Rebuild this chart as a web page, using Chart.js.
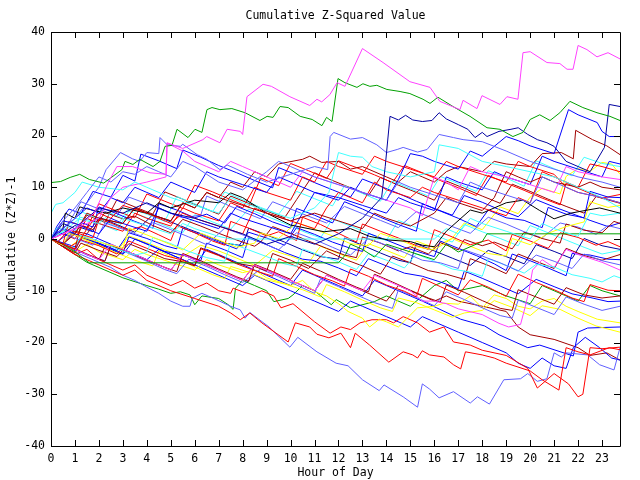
<!DOCTYPE html>
<html>
<head>
<meta charset="utf-8">
<script src="https://cdn.jsdelivr.net/npm/chart.js@4.4.1/dist/chart.umd.min.js"></script>
<style>
  html, body { margin: 0; padding: 0; background: #fff; }
  #wrap { width: 640px; height: 480px; }
</style>
</head>
<body>
<div id="wrap"><canvas id="c" width="640" height="480"></canvas></div>
<script>
// Cumulative (z*z)-1 random walks, one per series, [hour, value] pairs
const X_TICKS = [0, 1, 2, 3, 4, 5, 6, 7, 8, 9, 10, 11, 12, 13, 14, 15, 16, 17, 18, 19, 20, 21, 22, 23];
const Y_TICKS = [-40, -30, -20, -10, 0, 10, 20, 30, 40];

const magentaTop = [[0,0],[1,2],[1.8,5],[2.4,11],[2.75,14],[3.4,14],[4.13,12.8],[4.8,12.5],[4.84,18.6],[5.5,17.5],[6.34,19.2],[6.5,19.8],[7.05,18.6],[7.35,21.2],[7.9,20.8],[8.0,20.2],[8.18,27.5],[8.85,29.9],[9.2,29.5],[9.97,27.5],[10.8,25.8],[11.1,27],[11.3,26.5],[11.64,27.9],[11.94,30.2],[12.27,29.5],[13.0,36.8],[13.86,34.1],[14.98,30.4],[15.82,29.3],[16.23,26.6],[17.07,25],[17.2,26.8],[17.78,25.2],[17.99,27.7],[18.74,26],[19.03,27.5],[19.49,27],[19.7,36],[20.0,36.2],[20.7,34.1],[21.24,33.9],[21.54,32.8],[21.79,32.8],[22.0,37.4],[22.37,36.6],[22.79,35.2],[23.25,36],[23.75,34.8]];
const greenTop = [[0,10.9],[0.4,11.1],[0.8,11.9],[1.2,12.5],[1.6,11.5],[2.2,10.8],[2.96,13.4],[3.09,15],[3.42,14.4],[3.71,15.4],[4.26,14],[4.55,15],[4.76,17.9],[5.05,18.1],[5.26,21.2],[5.72,19.6],[6.01,21.2],[6.3,20.6],[6.51,25],[6.72,25.4],[7.05,25],[7.55,25.2],[8.1,24.4],[8.72,22.9],[9.02,23.7],[9.27,23.5],[9.56,25.6],[9.9,25.4],[10.4,23.7],[10.9,23.1],[11.31,21.9],[11.5,23.5],[11.73,22.7],[11.98,31],[12.27,30.2],[12.77,29.3],[13.02,30],[13.31,29.5],[13.6,29.7],[14.02,28.9],[14.57,28.5],[14.98,28.1],[15.53,27],[15.82,26.2],[16.15,27.4],[16.78,25.6],[17.49,23.7],[18.2,21.5],[18.74,21.2],[19.28,19.8],[19.7,20.6],[20.0,23.1],[20.4,24],[20.83,22.9],[21.24,24.4],[21.66,26.6],[22.2,25.4],[22.79,24.4],[23.33,23.7],[23.75,22.9]];
const darkBlueTop = [[0,0],[0.5,3],[1,2],[2,6],[3,5],[4,7],[5,5],[6,4],[7,2.5],[8,1],[9,-1],[10,0.5],[11,-1],[12,1],[13,4],[13.8,8],[13.95,14],[14.15,23.7],[14.5,23],[14.8,23.9],[15.1,23],[15.5,22.7],[15.9,22.9],[16.2,24.4],[16.5,23.2],[17,22.1],[17.4,21.2],[17.7,19.6],[18,20.6],[18.2,19.8],[18.7,20.8],[19.2,21.2],[19.5,21.5],[19.9,20.2],[20.3,19.2],[20.7,18.6],[21,17.9],[21.5,15],[22.5,13],[23.1,17.7],[23.3,26],[23.75,25.6]];
const lightBlue1 = [[0,0],[0.5,2],[1,4],[1.5,7],[2,10],[2.3,13.4],[2.9,16.7],[3.4,15.5],[3.7,15],[4,16.7],[4.5,16.5],[4.55,19.6],[4.85,18.2],[5.4,17.9],[5.5,18.3],[6.1,16.3],[6.5,15.4],[7.05,13.4],[7.35,14.3],[7.6,13.8],[8.2,12.5],[9,11],[10,12.5],[11,14],[11.55,13.4],[11.65,19.8],[11.8,20.6],[12.5,19.3],[13,19.6],[13.6,18.2],[14,16.7],[14.45,17.3],[14.7,17.7],[15.3,16.8],[15.7,17.3],[16.2,20.2],[16.8,19.6],[17.2,19.2],[18,18.8],[19,17],[20,15],[21,13.5],[22,12],[23,11],[23.75,10]];
const lightBlue2 = [[0,0],[0.4,3],[1,6],[1.5,9],[2,12],[2.5,11],[3,13],[3.5,12.5],[4,14],[4.5,13],[5,12],[5.5,15],[6,14],[6.5,12.5],[7,11],[8,9.5],[9,13],[9.5,15],[10,14],[10.5,13],[11,12],[12,10.5],[13,9],[14,7.5],[14.5,11],[15,10],[16,8.5],[17,7],[17.5,11],[18,10],[19,8.5],[20,7],[20.5,12],[21,11],[22,9],[23,8],[23.75,7]];
const cyan1 = [[0,5],[0.2,6.7],[0.5,7],[1,9],[1.3,11],[2,10],[3,9.5],[3.5,11],[4,10],[5,8],[6,6.5],[7,5],[7.5,8],[8,7],[9,5.5],[10,4],[11,6],[11.6,9],[12,16.7],[12.5,16],[13,15.8],[13.4,14],[14,13],[15,12],[16,13],[16.2,18.2],[17,17.5],[18,15],[19,14],[20,13],[21,12],[22,10],[23,8],[23.75,6]];
const magenta2 = [[0,0],[1,2],[2,4],[2.5,8],[3,10],[4,11],[4.8,12],[4.85,18.5],[5.5,17],[6,15],[6.5,14],[7,13],[7.5,15],[8,14],[9,12],[10,10],[10.5,13],[11,12],[12,10.5],[13,9],[14,7.5],[15,6],[15.5,4.5],[16,12],[16.5,11],[17,9.5],[17.5,14],[18,13],[19,12],[20,10.5],[21,9],[21.5,14],[22,13],[23,12],[23.75,11.5]];
const blue1 = [[0,0],[0.5,2],[1,4],[1.5,6],[2,5],[2.5,8],[3,7],[3.5,10],[4,9],[4.5,8],[5,11],[5.5,10],[6,9],[6.5,13],[7,12],[8,10.5],[9,9],[9.5,12],[10,11],[11,9],[12,7.5],[12.5,10],[13,9],[14,7.5],[14.5,11.5],[15,16.5],[15.5,16],[16,15],[17,13.5],[17.5,17],[18,16],[19,19.8],[19.5,19],[20,18],[21,16.5],[21.6,25],[22,24],[22.8,22.5],[23,20.8],[23.3,19.8],[23.75,19.8]];
const darkRed1 = [[0,0],[0.5,-1],[1,1],[1.5,5],[2,4],[3,3],[3.5,6],[4,5],[5,3.5],[5.5,7],[6,6],[6.5,9],[7,8],[8,6.5],[9,5],[10,3.5],[11,5],[12,3.5],[13,2],[13.5,5],[14,4],[15,2.5],[16,5],[16.5,8],[17,7],[18,5.5],[18.5,8],[19,13],[19.5,12],[20,11],[20.5,12],[21,11],[22,10],[22.5,11],[23,10],[23.75,9.5]];
const red1 = [[0,0],[1,-2],[1.5,2],[2,5],[2.5,4],[3,6.5],[4,5],[5,3],[5.5,5],[6,4],[7,2.5],[8,1],[8.5,6],[9,5],[10,3.5],[11,2],[11.5,6],[12,9],[13,7],[13.5,11],[14,9.5],[15,8],[15.5,10],[16,9],[17,7.5],[18,6],[19,4.5],[19.5,8],[20,7],[20.5,13],[21,12],[22,10],[22.5,14.5],[23,14],[23.75,13]];
const blue2 = [[0,0],[0.5,3.5],[1,3],[2,1],[2.5,4],[3,3],[4,1.5],[4.5,6],[5,5],[6,3.5],[7,2],[7.5,5],[8,4],[9,2.5],[10,1],[10.5,5],[11,9],[12,8],[13,6.5],[14,5],[14.5,8],[15,7],[16,5.5],[16.5,12],[17,11],[18,9.5],[18.5,13],[19,12],[20,10.5],[20.5,16],[21,15],[22,13.5],[23,12],[23.3,15],[23.75,14.5]];
const black1 = [[0,0],[0.5,2],[0.6,5],[1,4],[1.2,6.2],[1.8,5.5],[2.3,5],[3,6],[4,5],[4.5,7],[5,6],[6,7.5],[7,7],[7.5,8.9],[8,8],[8.5,6.5],[9,5],[10,2.7],[11.4,1.4],[12.5,2],[13.3,0.5],[14.1,-0.2],[15,-0.5],[15.5,-1.2],[16,-1.5],[16.5,1.5],[17.5,5.6],[18,5],[19,7],[19.7,7.5],[20.4,5.5],[21,3.9],[21.7,5],[22.4,5.6],[22.9,6],[23.75,5]];
const cyanFlat = [[0,0],[0.5,1.5],[1,4],[2,3],[2.5,5],[3,4],[4,2.5],[5,1],[5.5,3],[6,2],[7,0.5],[7.5,0],[16,0],[16.5,2],[17,1],[17.5,4],[18,3],[19,1.5],[20,0],[20.5,3],[21,2],[22,0.5],[22.5,5],[23,4.5],[23.75,5]];
const greenFlat = [[0,0],[0.5,-1],[1,-2.5],[1.6,-4.6],[12,-4.6],[12.3,-3],[12.5,-1],[13,-2],[13.5,-3.5],[14,-1],[15,-2.5],[16,-4],[16.5,-1],[17,-2.5],[18,-0.5],[18.2,1],[23.75,1]];
const yellow1 = [[0,0],[0.5,-1.2],[0.75,1.1],[1.5,0.1],[2.25,-0.9],[3,-1.8],[3.25,2.1],[4,0.8],[4.75,-0.6],[5.5,-2.1],[6.25,1.1],[7,-0.2],[7.75,-1.6],[8.5,-0.8],[8.75,1.2],[9.5,0.1],[10.25,3.2],[11,1.9],[11.75,0.6],[12.5,-0.9],[13.25,-1.3],[13.75,1.1],[14.5,-0.1],[15.25,-1.5],[16,-2.1],[16.75,0.1],[17.5,-1.4],[18.25,-2.8],[19,-3.3],[19.25,0.1],[20,-1.1],[20.75,1.1],[21.5,2.4],[22.25,3.3],[22.5,7.2],[23.25,6.1],[23.75,6.5]];
const lightBlue3 = [[0,0],[0.5,-1.1],[0.75,0.6],[1.75,-1.2],[2.25,3.1],[3,1.9],[3.75,0.6],[4.25,3.2],[5,1.8],[5.75,0.4],[6.5,-1.1],[7.25,2.1],[8,0.8],[8.75,-0.6],[9.5,-2.1],[10.25,1.2],[11,-0.1],[11.75,-1.6],[12.5,-3.1],[13.25,0.1],[14,-1.2],[14.75,-2.6],[15.5,-4.1],[16.25,-4.6],[17,-5.7],[17.25,-2.1],[18,-3.3],[18.75,-4.6],[19.5,-6.2],[20.25,-3.1],[21,-4.3],[21.75,-5.7],[22.25,-2.9],[23,-4.2],[23.75,-5]];
const red4 = [[0,0],[0.25,-0.7],[0.75,1.8],[1.25,0.9],[1.75,0.2],[2,3.8],[2.5,3.1],[3.25,1.6],[3.75,2.4],[4.5,0.8],[5,-0.3],[5.25,2.6],[6,1.2],[6.75,-0.4],[7.25,-1.2],[7.5,3.4],[8.25,2.1],[9,0.6],[9.5,1.4],[10.25,-0.3],[10.5,4.2],[11.25,2.8],[12,1.1],[12.75,-0.6],[13,2.9],[13.75,1.5],[14.5,0.2],[15.25,-1.3],[15.75,-2],[16,1.8],[16.75,0.4],[17.5,-1.1],[18.25,-0.2],[19,-2.3],[19.25,0.9],[20,-0.4],[20.75,-1.8],[21.25,1.2],[22,0.3],[22.75,-1.2],[23.25,-0.5],[23.75,-1.5]];
const darkRed2 = [[0,0],[0.5,-1.1],[1,-1.9],[1.25,2.7],[1.75,1.8],[2.25,5.1],[3,3.9],[3.5,4.4],[4.25,2.6],[5,1.2],[5.5,3.8],[6.25,2.5],[7,1.1],[7.75,-0.2],[8.5,-1.4],[8.75,-0.6],[9.25,2.4],[10,1.1],[10.75,-0.4],[11.5,-1.8],[12.25,-3.1],[12.75,-3.6],[13,0.4],[13.75,-0.8],[14.5,-2.3],[15,-1.5],[15.75,-2.9],[16.25,-0.7],[17,-2.1],[17.25,-0.1],[18,-1.3],[18.5,-0.6],[19.25,-1.9],[19.75,1.3],[20.5,0.1],[21.25,-0.8],[21.5,2.9],[22.25,1.7],[23,1.2],[23.5,3.4],[23.75,3]];
const blue3 = [[0,0],[0.25,1.4],[0.75,0.6],[1.25,3.2],[1.75,2.3],[2,6.2],[2.75,4.9],[3.5,3.4],[4.25,2.1],[4.5,6.8],[5.25,5.6],[6,4.1],[6.5,4.8],[7.25,3.1],[7.75,6.3],[8.5,4.9],[9.25,3.3],[10,2.1],[10.25,5.9],[11,4.6],[11.75,3.1],[12.25,7.2],[13,5.8],[13.75,4.2],[14.5,2.8],[15.25,1.5],[15.5,6.8],[16.25,5.4],[17,4],[17.75,2.4],[18.25,5.6],[19,4.1],[19.75,3.6],[20.5,2.2],[20.75,6.1],[21.5,4.8],[22.25,4.1],[22.5,9.2],[23.25,8.1],[23.75,8]];
const cyan3 = [[0,0],[0.5,-1.2],[1,-1.8],[1.25,0.7],[2,-0.4],[2.75,-1.9],[3.5,-3.1],[4,-2.6],[4.25,0.3],[5,-0.9],[5.75,-2.4],[6.5,-3.6],[7.25,-4.3],[7.5,-0.8],[8.25,-2.1],[9,-3.4],[9.75,-4.8],[10.25,-5.3],[10.5,-1.9],[11.25,-3.2],[12,-4.4],[12.75,-5.9],[13.25,-2.8],[14,-4.1],[14.75,-5.6],[15.25,-2.9],[16,-4.3],[16.75,-5.8],[17.5,-6.4],[18,-7.2],[18.25,-3.8],[19,-5.1],[19.75,-6.6],[20.25,-4.9],[21,-5.4],[21.75,-6.9],[22.5,-7.6],[23,-8.3],[23.5,-7.1],[23.75,-7.5]];
const magenta3 = [[0,0],[1,-2],[2,-4],[2.5,-1],[3,-2],[4,-4],[5,-6],[5.5,-3],[6,-4],[7,-6],[8,-8],[8.5,-5],[9,-6],[10,-8],[11,-10],[11.5,-7],[12,-8],[13,-10],[13.5,-7],[14,-8],[15,-10],[15.5,-12],[16,-12],[16.5,-12.5],[17,-13.5],[18,-14.6],[18.7,-16.3],[19.1,-17],[19.6,-16.5],[19.8,-13],[19.95,-10],[20.1,-6],[20.5,-4],[21,-5.5],[21.5,-2],[22,-3],[23,-4.5],[23.75,-6]];
const darkRed3 = [[0,0],[0.5,-1.4],[1,-2.7],[1.25,-0.8],[2,-2.2],[2.75,-3.4],[3.25,-0.9],[4,-2.3],[4.75,-3.8],[5.5,-4.4],[6,-5.2],[6.25,-1.7],[7,-3.1],[7.75,-4.7],[8.5,-5.3],[9,-6.2],[9.25,-2.8],[10,-4.1],[10.75,-5.7],[11.5,-2.3],[12.25,-3.9],[13,-5.2],[13.75,-6.8],[14.25,-3.3],[15,-4.6],[15.75,-6.1],[16.5,-6.8],[17.25,-7.8],[17.5,-3.8],[18.25,-5.1],[19,-6.7],[19.5,-2.9],[20.25,-4.3],[21,-5.7],[21.5,-1.8],[22.25,-3.2],[23,-4.1],[23.75,-3]];
const red5 = [[0,0],[0.75,-1.6],[1.25,-0.2],[2,-1.3],[2.75,-2.9],[3.25,-0.4],[4,-1.8],[4.75,-3.2],[5.5,-4.1],[6,-5.1],[6.25,-1.9],[7,-3.2],[7.75,-4.8],[8.5,-6.1],[9.25,-7.2],[9.5,-3.8],[10.25,-5.3],[11,-6.9],[11.75,-8.1],[12.25,-9.1],[12.5,-5.8],[13.25,-7.2],[14,-8.9],[14.75,-10.1],[15.25,-11.2],[15.5,-7.6],[16.25,-9.2],[17,-10.8],[17.5,-7.9],[18.25,-9.3],[19,-11.1],[19.5,-6.8],[20.25,-8.4],[21,-9.8],[21.75,-11.4],[22.25,-12.1],[22.5,-8.8],[23.25,-9.9],[23.75,-10]];
const darkRed4 = [[0,0],[0.75,-1.4],[1.5,-2.9],[2.25,-4.3],[2.5,-1.2],[3.25,-2.6],[4,-4.1],[4.75,-5.5],[5.25,-6.3],[5.5,-2.8],[6.25,-4.2],[7,-5.8],[7.75,-7.3],[8.25,-8.2],[8.5,-4.9],[9.25,-6.3],[10,-7.8],[10.5,-4.7],[11.25,-6.2],[12,-7.8],[12.75,-9.3],[13.25,-10.2],[13.5,-6.8],[14.25,-8.3],[15,-9.9],[15.75,-11.4],[16.25,-12.2],[16.5,-8.9],[17.25,-10.3],[18,-11.9],[18.75,-13.4],[19.25,-13.8],[19.5,-9.8],[20.25,-11.2],[21,-12.6],[21.5,-9.4],[22.25,-10.8],[23,-11.4],[23.75,-11]];
const blue4 = [[0,0],[0.25,-0.6],[0.75,1.2],[1.5,0.1],[2.25,-1.3],[3,-2.8],[3.25,0.4],[4,-0.9],[4.75,-2.4],[5.5,-3.1],[6.25,-4.2],[6.5,-0.8],[7.25,-2.1],[8,-3.6],[8.25,0.2],[9,-1.1],[9.75,-2.6],[10.5,-3.9],[11.25,-4.3],[12,-5.6],[12.75,-7.1],[13.25,-3.8],[14,-5.2],[14.75,-6.6],[15.5,-7.2],[16.25,-8.3],[17,-9.6],[17.25,-6.2],[18,-7.6],[18.75,-9.1],[19.5,-10.6],[20.25,-7.8],[21,-9.2],[21.75,-10.6],[22.5,-11.3],[23.25,-12.1],[23.75,-12]];
const lightBlue4 = [[0,0],[0.75,-1.5],[1.5,-3.1],[2.25,-4.2],[2.5,-1.3],[3.25,-2.8],[4,-4.3],[4.75,-5.9],[5.25,-6.7],[5.75,-3.9],[6.5,-5.3],[7.25,-6.9],[8,-8.4],[8.75,-5.8],[9.5,-7.3],[10.25,-8.9],[11,-10.5],[11.25,-7.7],[12,-9.2],[12.75,-10.8],[13.5,-12.3],[14.25,-13.4],[14.5,-9.8],[15.25,-11.3],[16,-12.9],[16.5,-10.2],[17.25,-11.7],[18,-13.3],[18.75,-14.8],[19.25,-15.3],[19.5,-11.8],[20.25,-13.2],[21,-14.6],[21.5,-11.2],[22.25,-12.6],[23,-13.8],[23.75,-13]];
const yellow2 = [[0,0],[0.5,-1],[1,-2.5],[1.5,-1],[2,-2.5],[3,-4],[3.5,-2],[4,-3],[5,-4.5],[6,-6],[6.5,-4],[7,-5],[8,-6.5],[8.5,-6],[9,-7.5],[10,-9],[10.5,-8],[11,-10.2],[11.5,-11],[12,-12.5],[12.4,-14],[13,-15.3],[13.3,-17],[13.7,-15.5],[14,-16],[14.5,-17],[15.3,-13.3],[16,-13],[16.4,-12.4],[17,-12.6],[17.5,-11],[18,-13.3],[18.5,-10.8],[19,-11.5],[19.5,-13],[20,-13.5],[20.5,-12],[21,-11.5],[21.5,-13],[22,-14],[22.8,-15.5],[23.75,-16.2]];
const yellow3 = [[0,0],[0.75,-1.7],[1.25,0.2],[2,-1.2],[2.75,-2.7],[3.5,-4.1],[4.25,-5.2],[4.5,-2.3],[5.25,-3.8],[6,-5.4],[6.75,-6.9],[7.25,-7.7],[7.5,-5.3],[8.25,-6.4],[9,-7.9],[9.75,-8.7],[10.5,-9.8],[11.25,-11.2],[11.5,-8.8],[12.25,-10.2],[13,-11.8],[13.75,-13.3],[14.25,-14],[14.5,-11.4],[15.25,-12.3],[16,-13.7],[16.75,-15.1],[17.25,-14.3],[18,-13.8],[18.5,-11.9],[19.25,-13.2],[20,-14.8],[20.5,-12.9],[21.25,-13.6],[22,-15.3],[22.75,-16.8],[23.75,-18]];
const red2 = [[0,0],[0.5,-1.5],[1,-3],[1.5,-2],[2,-4],[3,-6],[3.5,-5],[4,-7],[5,-9],[5.5,-8],[6,-9.5],[6.5,-8.5],[7,-10],[7.5,-10.5],[7.6,-9.5],[8,-10.2],[8.4,-10.8],[8.8,-10],[9.3,-11],[9.6,-13.3],[10.1,-12.5],[11,-16],[11.65,-18.2],[12.1,-17],[12.5,-17.5],[12.9,-16.2],[13.4,-15.6],[14,-15.6],[14.3,-16.2],[14.7,-15],[15.3,-16.2],[15.8,-18],[16.4,-17],[16.8,-19.9],[17.5,-20.5],[18,-21.5],[19,-22.5],[19.9,-25],[20.3,-28.8],[21,-26],[21.6,-28],[22,-30.5],[22.2,-30],[22.5,-21],[23,-21.2],[23.75,-20.9]];
const red3 = [[0,0],[0.5,-1.5],[1,-3],[2,-5],[3,-7],[3.5,-6],[4,-8],[5,-10],[6,-11.5],[7,-13],[7.5,-14.3],[7.9,-15.6],[8.3,-14.3],[8.8,-16.2],[9.9,-19.9],[10.2,-16.2],[10.8,-17],[11.1,-18.4],[11.6,-19.1],[12.1,-18.2],[12.5,-21],[12.7,-18.2],[13.3,-20.5],[14.1,-23.8],[14.7,-21.8],[15.1,-22.4],[15.3,-23],[15.5,-21.6],[15.8,-22.4],[16.4,-22.8],[16.8,-24.3],[17.1,-25.1],[17.3,-21.8],[18,-22.4],[18.5,-23],[19,-24],[20,-25.5],[20.5,-27.2],[21.2,-29.2],[21.5,-21],[22,-21.8],[22.5,-22.4],[23.3,-21],[23.75,-21.4]];
const lightBlueLow = [[0,0],[0.5,-1],[1,-2.5],[1.5,-3.5],[2,-4.5],[2.5,-5.5],[3,-7],[3.5,-8],[4,-9.3],[4.5,-10.5],[5,-12],[5.5,-13],[5.8,-13],[5.9,-11.4],[6.3,-10.5],[6.8,-11.5],[7.5,-13],[7.9,-13.7],[8.1,-15.3],[8.3,-14.2],[9.1,-17],[9.97,-20.9],[10.3,-19],[11.1,-21.8],[11.9,-24],[12.4,-24.5],[13,-27.2],[13.7,-29.3],[13.9,-28.2],[14.7,-30.5],[15.3,-32.5],[15.5,-28],[15.8,-29],[16.2,-30.7],[16.8,-29.5],[17.5,-31.7],[17.8,-30.5],[18.3,-31.9],[18.9,-27.2],[19.6,-27],[19.9,-26],[20.3,-27.5],[20.7,-27],[21,-22],[21.3,-22.8],[21.5,-22],[22.4,-22.4],[22.9,-24.3],[23.5,-25.3],[23.75,-21]];
const blue5 = [[0,0],[1,-1.5],[1.5,1],[2,0],[3,-2],[4,-4],[4.5,-2],[5,-3],[6,-5],[7,-7],[8,-9],[8.5,-7],[9,-8],[10,-10],[11,-12],[12,-14],[12.5,-12],[13,-13],[14,-15],[15,-17],[15.5,-15],[16,-16],[17,-18],[18,-20],[19,-22],[19.5,-24],[20,-25],[20.5,-23],[21,-24.5],[21.5,-25],[21.8,-21],[22.3,-19],[22.9,-21],[23.4,-23],[23.75,-23.4]];
const blue6 = [[0,0],[0.5,2],[1,1],[2,-1],[3,-3],[3.5,0],[4,-1],[5,-3],[6,-5],[6.5,-2],[7,-3],[8,-5],[9,-7],[10,-9],[10.5,-6],[11,-7],[12,-9],[13,-11],[13.5,-8],[14,-9],[15,-11],[15.5,-12],[16.1,-13.3],[17.1,-15.5],[18.1,-16.8],[18.7,-18.5],[19.9,-21],[20.4,-20.5],[21.8,-22.6],[22,-18],[22.4,-17.2],[23.75,-17]];
const darkRed5 = [[0,0],[1,-2],[2,-4],[2.3,-1],[3,-2],[4,-4],[5,-6],[5.5,-3],[6,-4],[7,-6],[8,-8],[8.5,-5],[9,-6],[10,-8],[11,-10],[11.5,-7],[12,-8],[13,-10],[14,-12],[14.5,-9],[15,-10],[16,-12],[16.5,-11],[17,-12],[18,-13],[19,-14],[19.5,-17],[20,-18.5],[21,-19.4],[22,-21],[22.5,-22.5],[23.2,-22],[23.75,-23.4]];
const greenLow = [[0,0],[0.5,-1.5],[1,-3],[1.5,-4.5],[2,-5.5],[3,-7.5],[4,-9],[4.5,-9.7],[5,-10.5],[5.4,-10.2],[5.8,-10.8],[6,-12.7],[6.3,-11],[7,-11.5],[7.4,-12.7],[7.6,-13.6],[7.7,-9.5],[8,-8],[8.5,-9],[9,-10],[9.3,-12.1],[9.9,-11.5],[10.1,-10.8],[10.5,-9],[11,-10],[11.7,-12.7],[11.9,-11.7],[12.5,-13.3],[13.5,-12.1],[14,-11],[15,-13],[15.5,-11],[16,-9],[16.5,-8],[17,-10],[18,-9],[19,-11],[20,-12.5],[20.5,-9],[21,-10],[22,-12],[22.5,-9],[23,-10],[23.75,-11]];
const red6 = [[0,0],[0.5,1],[1,0],[1.5,4],[2,3],[3,1.5],[3.5,5],[4,4],[5,2.5],[5.5,6],[6,5],[7,3.5],[7.5,7],[8,6],[8.5,10],[9,9],[10,7.5],[10.5,12],[11,11],[11.5,15],[12,14],[13,12.5],[13.5,16],[14,15],[15,13.5],[16,12],[16.5,15],[17,14],[18,12.5],[19,11],[19.5,15],[20,14],[21,12.5],[21.5,10],[22,9],[23,8],[23.75,7]];
const darkRed6 = [[0,0],[0.5,-1],[1,1.5],[1.5,1],[2,4],[3,3],[3.5,6],[4,5],[5,3.5],[5.5,7],[6,6],[6.5,9],[7,8],[7.5,11],[8,10],[8.5,13],[9,12],[9.5,14.5],[10.5,15.4],[10.8,16],[11.3,14.8],[12,15],[12.5,13.5],[13,14],[14,12],[14.5,11],[15,13],[15.5,12],[16,11],[16.5,13],[17,14],[18,13],[18.5,15],[19,14.5],[20,14],[20.5,16.5],[21.3,16.7],[21.8,15.5],[21.9,21],[22.6,19.2],[23.2,18],[23.75,16.3]];
const blue7 = [[0,0],[0.5,-1.2],[1,-2.3],[1.25,0.3],[2,-0.8],[2.75,-2.2],[3.25,1.2],[4,0.1],[4.75,-1.3],[5.25,-1.9],[5.5,2.1],[6.25,0.8],[7,-0.6],[7.75,-1.9],[8.25,1.3],[9,0.2],[9.75,-1.2],[10.25,2.2],[11,0.9],[11.75,-0.6],[12.5,-1.8],[13,-2.4],[13.25,1.1],[14,-0.2],[14.75,-1.6],[15.5,-2.7],[16,-3.4],[16.25,-0.4],[17,-1.8],[17.75,-3.2],[18.5,-4.8],[19,-6.1],[19.25,-2.9],[20,-4.2],[20.75,-5.6],[21.5,-7.1],[21.75,-2.8],[22.5,-3.1],[23.25,-3.9],[23.75,-4]];
const lightBlue5 = [[0,0],[0.25,1.2],[0.75,3.1],[1.25,7.2],[2,5.8],[2.75,4.4],[3.25,8.1],[4,6.8],[4.75,5.4],[5.5,4.1],[6.25,4.6],[6.5,8.3],[7.25,6.8],[8,5.3],[8.75,3.9],[9.25,7.2],[10,5.8],[10.75,4.4],[11.5,3.1],[12.25,6.3],[13,4.9],[13.75,3.6],[14.5,2.2],[15.25,5.3],[16,3.9],[16.75,2.4],[17.5,1.1],[18.25,4.2],[19,2.9],[19.75,1.4],[20.5,0.2],[21.25,3.1],[22,2.3],[22.75,0.9],[23.25,2.6],[23.75,2]];
const cyan4 = [[0,0],[0.25,2.2],[1,1.1],[1.25,5.3],[2,3.8],[2.75,2.4],[3.25,6.1],[4,4.8],[4.75,3.4],[5.25,8.2],[6,6.8],[6.75,5.3],[7.25,9.1],[8,7.6],[8.75,6.1],[9.5,4.8],[10.25,9.2],[11,7.8],[11.75,6.4],[12.25,10.3],[13,8.8],[13.75,7.3],[14.25,11.2],[15,9.7],[15.75,8.3],[16.25,12.1],[17,10.7],[17.75,9.2],[18.25,13.2],[19,11.8],[19.75,10.2],[20.25,15.1],[21,13.6],[21.75,12.2],[22.25,15.8],[23,14.6],[23.75,14]];
const yellow4 = [[0,0],[0.5,-1.1],[1,-2.1],[1.25,0.2],[2,-1.1],[2.75,-2.4],[3.25,0.6],[4,-0.7],[4.75,-2.1],[5.5,-3.4],[6.25,-1.2],[7,-2.3],[7.75,-3.7],[8.5,-5.1],[9.25,-2.2],[10,-3.3],[10.75,-4.6],[11.25,-1.4],[12,-2.8],[12.75,-4.1],[13.25,-0.9],[14,-2.2],[14.75,-3.6],[15.25,-0.4],[16,-1.7],[16.75,0.2],[17.25,3.1],[18,1.8],[18.75,6.2],[19.5,4.9],[20,8.1],[20.5,9.8],[21.25,8.7],[21.5,12.1],[22,13.6],[22.5,13.1],[23,14.8],[23.4,14.5],[23.75,12.5]];
const darkBlue2 = [[0,0],[0.5,1.1],[1,2.6],[1.75,1.4],[2,4.2],[2.75,2.8],[3.5,1.3],[4.25,4.7],[5,3.3],[5.75,1.9],[6.5,0.6],[7.25,-0.8],[8,-1.3],[8.25,2.1],[9,0.8],[9.75,-0.6],[10.5,-2.1],[11.25,-3.4],[12,-3.9],[12.25,0.2],[13,-1.2],[13.75,-2.7],[14.5,-4.1],[15,-4.6],[15.25,-0.9],[16,-2.3],[16.75,-3.7],[17.5,-5.1],[18.25,-2.2],[19,-3.4],[19.75,-4.8],[20.25,-1.1],[21,-2.4],[21.75,-3.8],[22.25,0.1],[23,-1.3],[23.75,-2]];
const blue8 = [[0,0],[0.25,2.5],[0.75,5.8],[1.25,4.9],[1.75,9.2],[2.5,8.1],[3,12.3],[3.5,11.2],[3.75,16.4],[4.5,15.1],[5.25,13.6],[5.5,17.2],[6.25,15.8],[7,14.2],[7.75,12.8],[8.5,11.3],[9.25,9.9],[9.5,13.8],[10.25,12.4],[11,10.9],[11.75,9.5],[12.5,8.1],[13,11.6],[13.75,10.2],[14.5,8.8],[15.25,7.3],[16,5.9],[16.75,4.6],[17.25,8.4],[18,7.1],[18.75,5.6],[19.5,4.3],[20.25,7.6],[21,6.2],[21.75,4.9],[22.5,3.6],[23.25,2.4],[23.75,3.1]];
const red7 = [[0,0],[0.5,-0.9],[0.75,3.4],[1.5,2.2],[2,6.8],[2.75,5.4],[3.5,4.1],[4,8.7],[4.75,7.3],[5.5,5.9],[6,10.4],[6.75,9.1],[7.5,7.6],[8.25,6.2],[8.75,11.8],[9.5,10.3],[10,14.6],[10.75,13.2],[11.5,11.7],[12,15.1],[12.75,13.8],[13.5,12.4],[14.25,10.9],[14.75,14.2],[15.5,12.8],[16.25,11.3],[17,9.9],[17.75,8.4],[18.25,12.3],[19,10.8],[19.75,9.4],[20.5,7.9],[21.25,6.6],[21.5,10.8],[22.25,9.3],[23,7.9],[23.75,8.6]];
const darkRed7 = [[0,0],[0.5,1.8],[1,1],[1.5,4.6],[2.25,3.2],[2.75,7.6],[3.5,6.2],[4.25,4.8],[4.75,9.1],[5.5,7.7],[6.25,6.2],[7,4.8],[7.5,8.3],[8.25,6.9],[9,5.4],[9.75,4.1],[10.25,7.6],[11,12.8],[11.75,11.3],[12.5,9.9],[13.25,8.4],[13.75,11.9],[14.5,10.4],[15.25,9],[16,7.5],[16.5,11.2],[17.25,9.8],[18,8.3],[18.75,6.9],[19.25,10.6],[20,9.2],[20.75,7.7],[21.5,6.3],[22.25,5],[22.75,8.2],[23.75,6.9]];
const cyan5 = [[0,0],[0.5,1.3],[1.25,4.2],[2,3],[2.75,1.6],[3.25,5.4],[4,4.1],[4.75,2.6],[5.5,1.2],[6,4.7],[6.75,3.3],[7.5,1.9],[8.25,5.8],[9,4.4],[9.75,3],[10.5,1.5],[11.25,0.2],[11.75,3.9],[12.5,2.5],[13.25,1.1],[14,-0.3],[14.5,3.6],[15.25,2.2],[16,0.8],[16.75,-0.6],[17.25,2.8],[18,1.4],[18.75,0.1],[19.5,-1.3],[20,2.6],[20.75,1.2],[21.5,-0.2],[22.25,-1.6],[23,-2.9],[23.75,-2.2]];

const RED = '#ff0000';
const GREEN = '#00a000';
const BLUE = '#0000ff';
const MAGENTA = '#ff40ff';
const CYAN = '#40ffff';
const DARK_RED = '#a00000';
const YELLOW = '#ffff00';
const BLACK = '#000000';
const LIGHT_BLUE = '#6060ff';
const DARK_BLUE = '#0000a0';

const SERIES = [
  [magentaTop, MAGENTA], [greenTop, GREEN], [darkBlueTop, DARK_BLUE], [lightBlue1, LIGHT_BLUE],
  [lightBlue2, LIGHT_BLUE], [cyan1, CYAN], [magenta2, MAGENTA], [blue1, BLUE],
  [darkRed1, DARK_RED], [red1, RED], [blue2, BLUE], [black1, BLACK],
  [cyanFlat, CYAN], [greenFlat, GREEN], [yellow1, YELLOW], [lightBlue3, LIGHT_BLUE],
  [red4, RED], [darkRed2, DARK_RED], [blue3, BLUE], [cyan3, CYAN],
  [magenta3, MAGENTA], [darkRed3, DARK_RED], [red5, RED], [darkRed4, DARK_RED],
  [blue4, BLUE], [lightBlue4, LIGHT_BLUE], [yellow2, YELLOW], [yellow3, YELLOW],
  [red2, RED], [red3, RED], [lightBlueLow, LIGHT_BLUE], [blue5, BLUE],
  [blue6, BLUE], [darkRed5, DARK_RED], [greenLow, GREEN], [red6, RED],
  [darkRed6, DARK_RED], [blue7, BLUE], [lightBlue5, LIGHT_BLUE], [cyan4, CYAN],
  [yellow4, YELLOW], [darkBlue2, DARK_BLUE], [blue8, BLUE], [red7, RED],
  [darkRed7, DARK_RED], [cyan5, CYAN]
];

const FONT = { family: '"DejaVu Sans Mono", monospace', size: 11.5 };

// gnuplot-style frame with inward ticks on all four sides, plus the title
const framePlugin = {
  id: 'frame',
  afterDraw(chart) {
    const { ctx, chartArea: a, scales } = chart;
    ctx.save();
    ctx.strokeStyle = '#000';
    ctx.lineWidth = 1;
    ctx.beginPath();
    ctx.rect(Math.round(a.left) + 0.5, Math.round(a.top) + 0.5, Math.round(a.right - a.left), Math.round(a.bottom - a.top));
    const t = 6;
    X_TICKS.forEach(v => {
      const x = Math.round(scales.x.getPixelForValue(v)) + 0.5;
      ctx.moveTo(x, a.bottom); ctx.lineTo(x, a.bottom - t);
      ctx.moveTo(x, a.top); ctx.lineTo(x, a.top + t);
    });
    Y_TICKS.forEach(v => {
      const y = Math.round(scales.y.getPixelForValue(v)) + 0.5;
      ctx.moveTo(a.left, y); ctx.lineTo(a.left + t, y);
      ctx.moveTo(a.right, y); ctx.lineTo(a.right - t, y);
    });
    ctx.stroke();
    ctx.fillStyle = '#000';
    ctx.font = FONT.size + 'px ' + FONT.family;
    ctx.textAlign = 'center';
    ctx.textBaseline = 'middle';
    ctx.fillText('Cumulative Z-Squared Value', (a.left + a.right) / 2, 16);
    ctx.restore();
  }
};

new Chart(document.getElementById('c'), {
  type: 'line',
  data: {
    datasets: SERIES.map(([pts, color]) => ({
      data: pts.map(([x, y]) => ({ x, y })),
      borderColor: color,
      borderWidth: 1,
      pointRadius: 0,
      tension: 0,
      fill: false
    }))
  },
  options: {
    responsive: false,
    animation: false,
    events: [],
    layout: { padding: { top: 32, right: 20, left: 0, bottom: 0 } },
    plugins: { legend: { display: false }, tooltip: { enabled: false }, title: { display: false } },
    scales: {
      x: {
        type: 'linear',
        min: 0,
        max: 23.75,
        afterBuildTicks: s => { s.ticks = X_TICKS.map(v => ({ value: v })); },
        afterFit: s => { s.height = 34; },
        grid: { display: false, drawTicks: false },
        border: { display: false },
        ticks: { color: '#000', font: FONT, padding: 6, maxRotation: 0, autoSkip: false },
        title: { display: true, text: 'Hour of Day', color: '#000', font: FONT, padding: { top: 0, bottom: 0 } }
      },
      y: {
        min: -40,
        max: 40,
        afterBuildTicks: s => { s.ticks = Y_TICKS.map(v => ({ value: v })); },
        afterFit: s => { s.width = 51; },
        grid: { display: false, drawTicks: false },
        border: { display: false },
        ticks: { color: '#000', font: FONT, padding: 6 },
        title: { display: true, text: 'Cumulative (Z*Z)-1', color: '#000', font: FONT, padding: { top: 5, bottom: 0 } }
      }
    }
  },
  plugins: [framePlugin]
});
</script>
</body>
</html>
